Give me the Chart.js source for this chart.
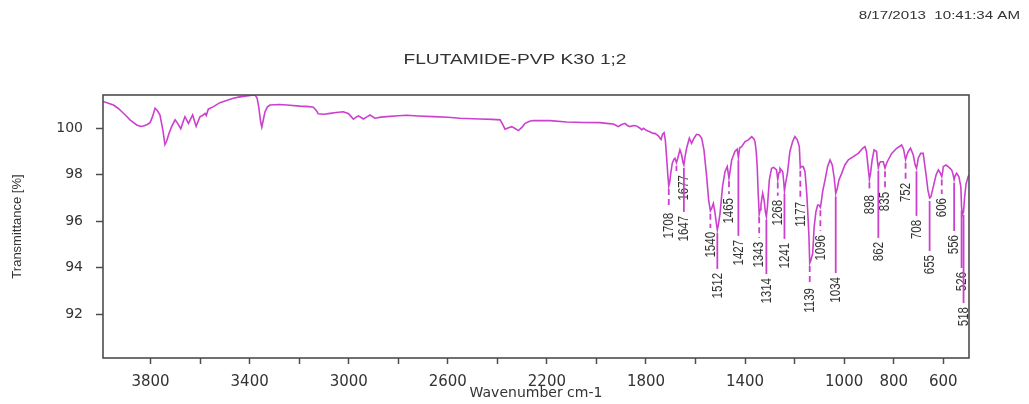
<!DOCTYPE html>
<html>
<head>
<meta charset="utf-8">
<title>FLUTAMIDE-PVP K30 1;2</title>
<script src="https://cdn.jsdelivr.net/npm/chart.js@4.4.1/dist/chart.umd.min.js"></script>
<style>
  html, body { margin: 0; padding: 0; background: #fff; }
  canvas { display: block; }
</style>
</head>
<body>
<canvas id="spectrum" width="1029" height="404"></canvas>
<script>
// IR spectrum, wavenumber (cm-1) against transmittance (%)
const wavenumbers = [
  3992, 3970, 3950, 3930, 3916, 3900, 3883, 3866, 3856, 3840, 3829, 3815, 3802, 3792, 3782, 3772,
  3762, 3750, 3742, 3735, 3725, 3715, 3701, 3690, 3678, 3668, 3661, 3647, 3638, 3630, 3616, 3608,
  3600, 3590, 3580, 3575, 3567, 3546, 3520, 3490, 3466, 3440, 3412, 3390, 3378, 3370, 3363, 3356,
  3351, 3346, 3338, 3328, 3318, 3280, 3250, 3197, 3160, 3143, 3130, 3123, 3100, 3075, 3050, 3022,
  3002, 2990, 2981, 2970, 2961, 2950, 2941, 2925, 2914, 2904, 2894, 2870, 2847, 2800, 2766, 2720,
  2659, 2600, 2551, 2500, 2470, 2420, 2389, 2380, 2369, 2355, 2342, 2330, 2315, 2300, 2288, 2270,
  2255, 2188, 2120, 2050, 1986, 1950, 1932, 1920, 1912, 1900, 1885, 1875, 1865, 1850, 1838, 1824,
  1817, 1810, 1797, 1785, 1771, 1764, 1750, 1739, 1733, 1727, 1722, 1717, 1712, 1708, 1704, 1700,
  1694, 1688, 1683, 1677, 1672, 1663, 1656, 1651, 1647, 1642, 1636, 1625, 1616, 1606, 1596, 1585,
  1575, 1566, 1555, 1547, 1540, 1535, 1528, 1522, 1517, 1512, 1507, 1501, 1491, 1481, 1472, 1465,
  1460, 1454, 1441, 1432, 1427, 1422, 1414, 1400, 1387, 1373, 1365, 1360, 1355, 1351, 1347, 1343,
  1339, 1336, 1329, 1323, 1318, 1314, 1310, 1302, 1293, 1284, 1273, 1268, 1263, 1259, 1248, 1244,
  1241, 1237, 1229, 1219, 1208, 1199, 1189, 1181, 1177, 1173, 1165, 1158, 1151, 1146, 1142, 1139,
  1135, 1127, 1121, 1114, 1107, 1102, 1096, 1092, 1087, 1077, 1067, 1057, 1048, 1040, 1034, 1028,
  1021, 1010, 997, 983, 963, 943, 925, 916, 910, 904, 898, 893, 887, 879, 869, 866,
  862, 857, 853, 842, 838, 835, 830, 826, 808, 788, 768, 760, 755, 752, 747, 741,
  732, 721, 714, 708, 704, 701, 691, 681, 670, 662, 655, 650, 640, 629, 620, 613,
  606, 602, 600, 589, 580, 566, 560, 556, 552, 546, 537, 529, 526, 522, 518, 514,
  508, 500, 496
];
const transmittance = [
  101.15, 101.08, 101.0, 100.85, 100.71, 100.55, 100.36, 100.22, 100.14, 100.08, 100.1, 100.15, 100.24, 100.5, 100.86, 100.75,
  100.57, 99.9, 99.3, 99.45, 99.8, 100.07, 100.36, 100.2, 99.98, 100.3, 100.5, 100.21, 100.4, 100.57, 100.08, 100.3,
  100.5, 100.55, 100.64, 100.55, 100.82, 100.93, 101.1, 101.2, 101.29, 101.35, 101.39, 101.42, 101.43, 101.3, 100.9, 100.3,
  100.05, 100.3, 100.71, 100.92, 101.0, 101.02, 101.0, 100.95, 100.93, 100.9, 100.75, 100.62, 100.6, 100.64, 100.68, 100.71,
  100.64, 100.5, 100.39, 100.48, 100.53, 100.46, 100.4, 100.5, 100.57, 100.5, 100.43, 100.48, 100.5, 100.54, 100.56, 100.53,
  100.5, 100.47, 100.43, 100.41, 100.4, 100.38, 100.36, 100.2, 99.96, 100.02, 100.07, 100.0, 99.9, 100.05, 100.21, 100.3,
  100.33, 100.33, 100.27, 100.25, 100.24, 100.2, 100.18, 100.12, 100.07, 100.15, 100.21, 100.12, 100.07, 100.12, 100.1, 100.0,
  99.93, 100.0, 99.9, 99.85, 99.78, 99.78, 99.67, 99.52, 99.75, 99.81, 99.5, 98.8, 98.0, 97.52, 97.7, 98.06,
  98.49, 98.65, 98.71, 98.52, 98.7, 99.07, 98.85, 98.55, 98.42, 98.8, 99.14, 99.57, 99.35, 99.57, 99.74, 99.71,
  99.57, 99.07, 97.92, 96.9, 96.45, 96.55, 96.77, 96.4, 96.0, 95.63, 95.9, 96.34, 97.49, 98.13, 98.35, 97.85,
  98.2, 98.64, 99.0, 99.1, 98.75, 99.15, 99.21, 99.43, 99.5, 99.64, 99.55, 99.43, 99.0, 98.35, 97.2, 96.3,
  96.5, 96.7, 97.2, 96.9, 96.4, 96.2, 96.6, 97.78, 98.28, 98.32, 98.21, 97.8, 98.1, 98.28, 98.13, 97.7,
  97.3, 97.6, 98.06, 99.0, 99.43, 99.64, 99.5, 99.21, 98.3, 98.35, 98.35, 98.13, 97.2, 96.2, 95.3, 94.2,
  94.3, 94.62, 95.77, 96.41, 96.7, 96.7, 96.6, 96.85, 97.27, 97.78, 98.35, 98.64, 98.42, 97.85, 97.2, 97.4,
  97.78, 98.06, 98.42, 98.64, 98.78, 98.92, 99.14, 99.21, 99.0, 98.4, 97.8, 98.1, 98.64, 99.07, 99.0, 98.6,
  98.3, 98.5, 98.56, 98.56, 98.4, 98.28, 98.45, 98.56, 98.92, 99.14, 99.28, 99.1, 98.8, 98.65, 98.85, 99.0,
  99.14, 98.85, 98.45, 98.28, 98.5, 98.71, 98.92, 98.92, 98.06, 97.35, 97.0, 97.05, 97.49, 97.99, 98.21, 98.1,
  97.92, 98.15, 98.35, 98.42, 98.35, 98.21, 98.0, 97.78, 97.95, 98.06, 97.92, 97.49, 96.6, 96.3, 96.4, 97.0,
  97.6, 97.9, 98.0
];

// picked peaks and the transmittance level where each label begins
const peakWavenumbers = [1708, 1677, 1647, 1540, 1512, 1465, 1427, 1343, 1314, 1268, 1241, 1177, 1139,
  1096, 1034, 898, 862, 835, 752, 708, 655, 606, 556, 526, 518];
const peakLabelLevel = [96.36, 97.99, 96.23, 95.54, 93.78, 97.0, 95.2, 95.11, 93.56, 96.92, 95.07, 96.83, 93.13,
  95.41, 93.6, 97.13, 95.11, 97.26, 97.65, 96.06, 94.55, 97.0, 95.41, 93.82, 92.31];
const peakLineDashed = [1, 1, 0, 1, 0, 1, 0, 1, 0, 1, 0, 1, 1, 1, 0, 1, 0, 1, 1, 0, 0, 1, 0, 0, 0];

const xTickLabels = [3800, 3400, 3000, 2600, 2200, 1800, 1400, 1000, 800, 600];
const yTickLabels = [92, 94, 96, 98, 100];

const chartTitle = 'FLUTAMIDE-PVP K30 1;2';
const stamp = '8/17/2013  10:41:34 AM';
const lineColor = '#cc40cf';
const inkColor = '#333333';

const points = wavenumbers.map((w, i) => ({ x: w, y: transmittance[i] }));

function transmittanceAt(w) {
  for (let i = 0; i < wavenumbers.length - 1; i++) {
    const a = wavenumbers[i], b = wavenumbers[i + 1];
    if (w <= a && w >= b) {
      const t = (a - w) / (a - b);
      return transmittance[i] + t * (transmittance[i + 1] - transmittance[i]);
    }
  }
  return transmittance[transmittance.length - 1];
}

const peakLabels = {
  id: 'peakLabels',
  afterDatasetsDraw(chart, args, opts) {
    const { ctx, scales: { x, y } } = chart;
    ctx.save();
    peakWavenumbers.forEach((w, i) => {
      const px = x.getPixelForValue(w);
      const yPeak = y.getPixelForValue(transmittanceAt(w));
      const yText = y.getPixelForValue(peakLabelLevel[i]);
      ctx.strokeStyle = lineColor;
      ctx.lineWidth = 1.8;
      ctx.setLineDash(peakLineDashed[i] ? [6, 4] : []);
      ctx.beginPath();
      ctx.moveTo(px, yPeak + 3);
      ctx.lineTo(px, yText - 4);
      ctx.stroke();

      const tx = px + (opts.nudge[w] || 0);
      ctx.save();
      ctx.translate(tx, yText);
      ctx.scale(1.35, 1);
      ctx.rotate(-Math.PI / 2);
      ctx.font = "11.5px 'Liberation Sans', Arial, sans-serif";
      ctx.fillStyle = inkColor;
      ctx.textAlign = 'right';
      ctx.textBaseline = 'middle';
      ctx.fillText(String(w), 0, 0);
      ctx.restore();
    });
    ctx.restore();
  }
};

const frameAndHeader = {
  id: 'frameAndHeader',
  afterDraw(chart) {
    const { ctx, chartArea: a } = chart;
    ctx.save();
    ctx.strokeStyle = '#4d4d4d';
    ctx.lineWidth = 1.6;
    ctx.strokeRect(a.left, a.top, a.right - a.left, a.bottom - a.top);

    ctx.fillStyle = inkColor;
    ctx.textBaseline = 'middle';
    ctx.save();
    ctx.translate(515, 60);
    ctx.scale(1.32, 1);
    ctx.font = "14.5px 'Liberation Sans', Arial, sans-serif";
    ctx.textAlign = 'center';
    ctx.fillText(chartTitle, 0, 0);
    ctx.restore();

    ctx.save();
    ctx.translate(1020, 16);
    ctx.scale(1.35, 1);
    ctx.font = "11.2px 'Liberation Sans', Arial, sans-serif";
    ctx.textAlign = 'right';
    ctx.fillText(stamp, 0, 0);
    ctx.restore();
    ctx.restore();
  }
};

Chart.defaults.font.family = "'Liberation Sans', Arial, sans-serif";
Chart.defaults.color = inkColor;

const ctx = document.getElementById('spectrum').getContext('2d');
new Chart(ctx, {
  type: 'line',
  data: {
    datasets: [{
      data: points,
      borderColor: lineColor,
      borderWidth: 1.6,
      pointRadius: 0,
      tension: 0,
      fill: false
    }]
  },
  options: {
    responsive: false,
    animation: false,
    devicePixelRatio: 1,
    layout: { padding: { top: 95, right: 60, left: 0, bottom: 0 } },
    plugins: {
      legend: { display: false },
      tooltip: { enabled: false },
      peakLabels: { nudge: { 1677: 7 } }
    },
    scales: {
      x: {
        type: 'linear',
        reverse: true,
        min: 496,
        max: 3992,
        afterFit: (s) => { s.height = 46; },
        border: { display: false },
        grid: { drawOnChartArea: false, drawTicks: true, tickLength: 6, tickColor: '#4d4d4d', tickWidth: 1.5 },
        ticks: {
          stepSize: 200,
          includeBounds: false,
          autoSkip: false,
          maxRotation: 0,
          padding: 9,
          color: inkColor,
          font: { family: "'DejaVu Sans', sans-serif", size: 15 },
          callback: (v) => xTickLabels.includes(v) ? String(v) : ''
        },
        title: {
          display: true,
          text: 'Wavenumber cm-1',
          color: inkColor,
          font: { family: "'DejaVu Sans', sans-serif", size: 14 },
          padding: { top: 0, bottom: 2 }
        }
      },
      y: {
        min: 90.12,
        max: 101.43,
        afterFit: (s) => { s.width = 103; },
        border: { display: false },
        grid: { drawOnChartArea: false, drawTicks: true, tickLength: 7, tickColor: '#4d4d4d', tickWidth: 1.5 },
        ticks: {
          stepSize: 2,
          includeBounds: false,
          padding: 13,
          color: inkColor,
          font: { family: "'DejaVu Sans', sans-serif", size: 14 },
          callback: (v) => yTickLabels.includes(v) ? String(v) : ''
        },
        title: {
          display: true,
          text: 'Transmittance [%]',
          color: inkColor,
          font: { size: 13 },
          padding: { top: 10, bottom: 0 }
        }
      }
    }
  },
  plugins: [peakLabels, frameAndHeader]
});
</script>
</body>
</html>
